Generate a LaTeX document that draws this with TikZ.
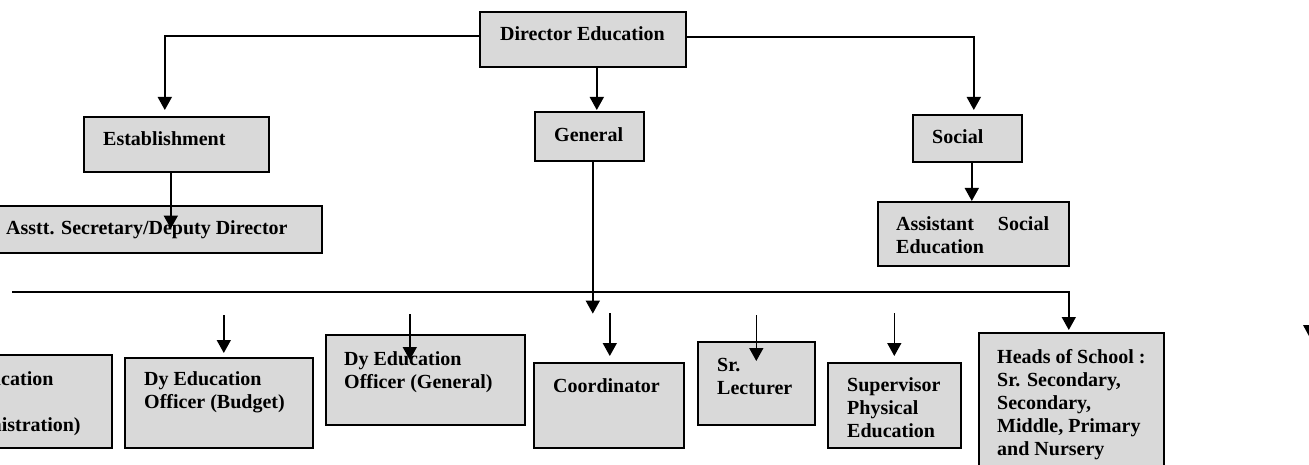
\documentclass[tikz,border=0pt]{standalone}
\usepackage{fontspec}
\setmainfont{Liberation Serif}
\usetikzlibrary{arrows.meta}
\definecolor{boxgray}{RGB}{217,217,217}
\tikzset{
  box/.style={draw, fill=boxgray, line width=1.6pt, inner sep=0pt, anchor=north west},
  lbl/.style={anchor=base west, inner sep=0pt, align=left, font=\bfseries\fontsize{20}{23}\selectfont},
  arr/.style={line width=1.6pt, -{Triangle[width=14pt,length=13pt]}}
}
\begin{document}
\begin{tikzpicture}[x=1pt, y=-1pt]
\useasboundingbox (0,0) rectangle (1309,465);
\clip (0,0) rectangle (1309,465);
% top levels
\node[box, minimum width=206, minimum height=55] (dir) at (479,11) {};
\node[box, minimum width=185, minimum height=55] (est) at (83,116) {};
\node[box, minimum width=109, minimum height=49] (gen) at (534,111) {};
\node[box, minimum width=109, minimum height=47] (soc) at (912,114) {};
\node[box, minimum width=331, minimum height=47] (asec) at (-10,205) {};
\node[box, minimum width=191, minimum height=64] (ase) at (877,201) {};
% bottom row
\node[box, minimum width=201, minimum height=93] (adm) at (-90,354) {};
\node[box, minimum width=188, minimum height=90] (bud) at (124,357) {};
\node[box, minimum width=199, minimum height=90] (dyg) at (325,334) {};
\node[box, minimum width=150, minimum height=85] (coo) at (533,362) {};
\node[box, minimum width=117, minimum height=83] (lec) at (697,341) {};
\node[box, minimum width=133, minimum height=85] (sup) at (827,362) {};
\node[box, minimum width=185, minimum height=150] (heads) at (978,332) {};
% texts (base = last line)
\node[lbl] (dir-t) at (500,41) {Director Education};
\node[lbl] (est-t) at (103,146) {Establishment};
\node[lbl] (gen-t) at (554,142) {General};
\node[lbl] (soc-t) at (932,144) {Social};
\node[lbl] (asec-t) at (6,234) {Asstt. Secretary/Deputy Director};
\node[lbl] (ase-t) at (896,254) {Assistant\hspace{24pt}Social\\Education};
\node[lbl] (adm-t) at (-64,431) {Dy Education\\Officer\\(Administration)};
\node[lbl] (bud-t) at (144,408) {Dy Education\\Officer (Budget)};
\node[lbl] (dyg-t) at (344,388) {Dy Education\\Officer (General)};
\node[lbl] (coo-t) at (553,392) {Coordinator};
\node[lbl] (lec-t) at (717,394) {Sr.\\Lecturer};
\node[lbl] (sup-t) at (847,437) {Supervisor\\Physical\\Education};
\node[lbl] (heads-t) at (997,455) {Heads of School :\\Sr. Secondary,\\Secondary,\\Middle, Primary\\and Nursery};
% connectors
\draw[arr] ([yshift=3.5pt]dir.west) -| ([xshift=-11.5pt,yshift=6pt]est.north);
\draw[arr] ([yshift=2.5pt]dir.east) -| ([xshift=6.5pt,yshift=4pt]soc.north);
\draw[arr] ([xshift=14pt]dir.south) -- ([xshift=14pt,yshift=1pt]dir.south |- gen.north);
\draw[arr] ([xshift=-5.5pt]est.south) -- ++(0,56);
\draw[arr] ([xshift=4.5pt]soc.south) -- ([xshift=4.5pt]soc.south |- ase.north);
\draw[arr] ([xshift=3.5pt]gen.south) -- ++(0,152);
\coordinate (busL) at (12,292);
\draw[arr] (busL) -| ([xshift=-2.5pt,yshift=2pt]heads.north);
\draw[arr] ([xshift=5pt]bud.north) ++(0,-42) -- ++(0,38);
\draw[arr] ([xshift=-15.5pt]dyg.north) ++(0,-20) -- ++(0,46);
\draw[arr] ([xshift=1pt]coo.north) ++(0,-49) -- ++(0,43);
\draw[arr] (lec.north) ++(0,-26) -- ++(0,46);
\draw[arr] (sup.north) ++(0,-49) -- ++(0,43);
% stray head on the right
\coordinate (stray) at (1310,338);
\fill (stray) -- ++(-7,-13) -- ++(14,0) -- cycle;
\end{tikzpicture}
\end{document}
